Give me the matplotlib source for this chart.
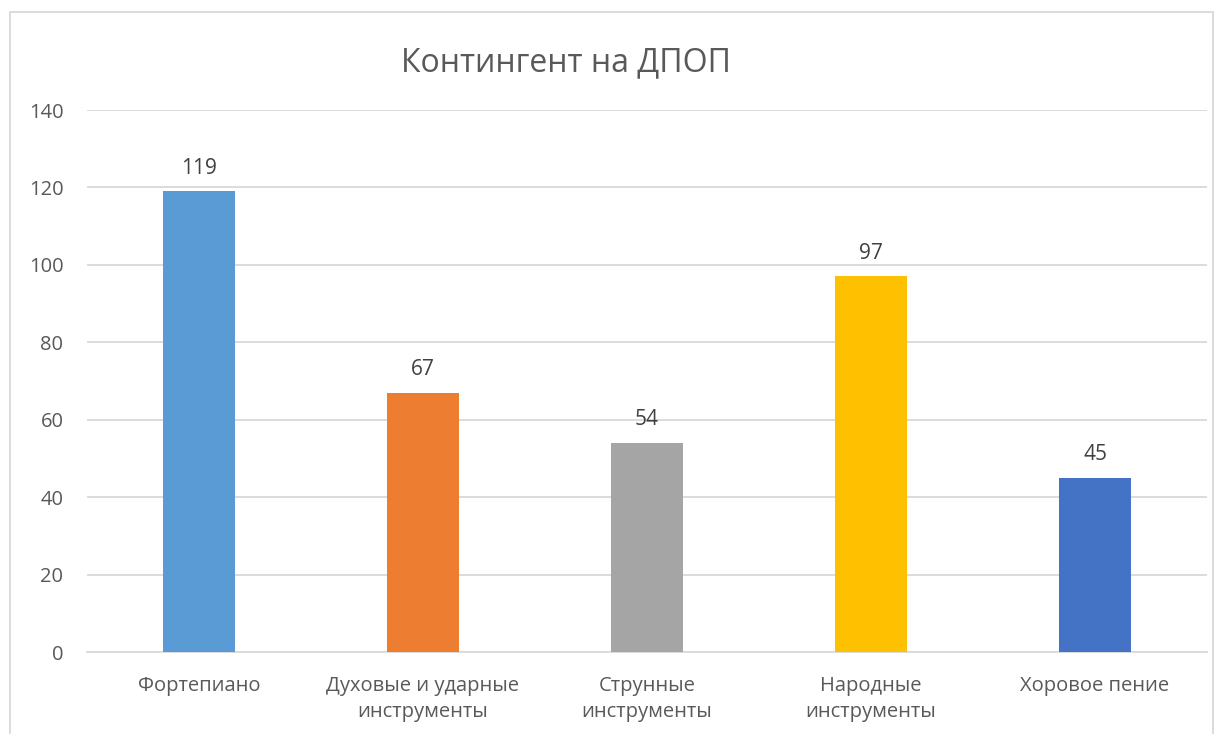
import matplotlib.pyplot as plt
from matplotlib.patches import Rectangle

categories = ['Фортепиано', 'Духовые и ударные\nинструменты', 'Струнные\nинструменты',
              'Народные\nинструменты', 'Хоровое пение']
values = [119, 67, 54, 97, 45]
colors = ['#5B9BD5', '#ED7D31', '#A5A5A5', '#FFC000', '#4472C4']
yticks = [0, 20, 40, 60, 80, 100, 120, 140]

plt.rcParams['font.family'] = ['Open Sans', 'DejaVu Sans']

W, H = 1224, 734
fig = plt.figure(figsize=(W / 100, H / 100), dpi=100)

# chart border
fig.patches.append(Rectangle((10 / W, -0.05), 1203 / W, 1.05 - 12 / H, transform=fig.transFigure,
                             fill=False, edgecolor='#D9D9D9', linewidth=1.3))

ax = fig.add_axes([87 / W, (H - 652) / H, (1207 - 87) / W, (652 - 110) / H])
x = list(range(len(values)))
bars = ax.bar(x, values, width=0.317, color=colors, zorder=3)
ax.set_xlim(-0.5, len(values) - 0.5)
ax.set_ylim(0, 140)
ax.set_yticks(yticks)
ax.set_xticks(x)
ax.set_xticklabels(categories, linespacing=1.45)
ax.grid(axis='y', color='#D9D9D9', linewidth=1.3, zorder=0)
for s in ['top', 'right', 'left']:
    ax.spines[s].set_visible(False)
ax.spines['bottom'].set_color('#D9D9D9')
ax.spines['bottom'].set_linewidth(1.3)
ax.tick_params(axis='both', length=0, labelsize=14.5, colors='#595959')
ax.tick_params(axis='y', pad=17)
ax.tick_params(axis='x', pad=17)

for b, v in zip(bars, values):
    ax.annotate(str(v), (b.get_x() + b.get_width() / 2, v), xytext=(0, 9),
                textcoords='offset points', ha='center', va='bottom',
                fontsize=15, color='#404040')

fig.text(566 / W, 1 - 63 / H, 'Контингент на ДПОП', ha='center', va='center',
         fontsize=23, color='#595959')

fig.savefig('out.png', dpi=100)
